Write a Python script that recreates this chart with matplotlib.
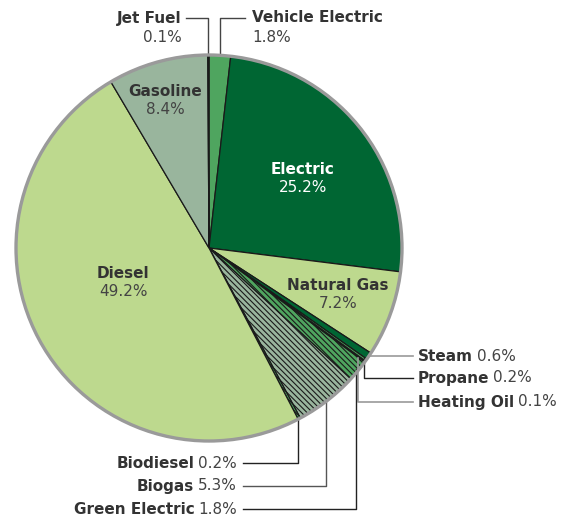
import matplotlib.pyplot as plt
import numpy as np

# energy use by source, percent of total (clockwise from top)
sources = ['Vehicle Electric', 'Electric', 'Natural Gas', 'Steam', 'Propane',
           'Heating Oil', 'Green Electric', 'Biogas', 'Biodiesel', 'Diesel',
           'Gasoline', 'Jet Fuel']
shares = [1.8, 25.2, 7.2, 0.6, 0.2, 0.1, 1.8, 5.3, 0.2, 49.2, 8.4, 0.1]
pct_text = ['1.8%', '25.2%', '7.2%', '0.6%', '0.2%', '0.1%', '1.8%', '5.3%',
            '0.2%', '49.2%', '8.4%', '0.1%']

DARK = '#006633'
MID = '#4fa55f'
LIGHT = '#bdd98e'
GREY = '#99b59d'
colors = [MID, DARK, LIGHT, DARK, MID, GREY, MID, GREY, MID, LIGHT, GREY, DARK]
hatched = {'Green Electric', 'Biogas', 'Biodiesel'}

cx, cy, R = 209, 248, 193

plt.rcParams['hatch.linewidth'] = 0.8
plt.rcParams['hatch.color'] = '#1a1a1a'

fig = plt.figure(figsize=(5.75, 5.2), dpi=100)
ax = fig.add_axes([0, 0, 1, 1])

wedges, _ = ax.pie(shares, colors=colors, center=(cx, cy), radius=R,
                   startangle=-90, counterclock=True, frame=True,
                   wedgeprops=dict(edgecolor='#1a1a1a', linewidth=0.9))
for w, s in zip(wedges, sources):
    if s in hatched:
        w.set_hatch('\\\\\\\\\\\\')
ax.add_patch(plt.Circle((cx, cy), R, fill=False, ec='#9a9a9a', lw=2.4, zorder=5))

ax.set_xlim(0, 575)
ax.set_ylim(520, 0)
ax.set_aspect('equal')
ax.axis('off')

fs = 11
name_col = '#333333'
pct_col = '#444444'

# labels inside the pie
inside = {'Gasoline': (165, 92, name_col), 'Electric': (303, 170, 'white'),
          'Natural Gas': (338, 286, name_col), 'Diesel': (123, 273, name_col)}
for s, (x, y, c) in inside.items():
    i = sources.index(s)
    ax.text(x, y, s, ha='center', va='center', fontsize=fs, fontweight='bold', color=c)
    ax.text(x, y + 18, pct_text[i], ha='center', va='center', fontsize=fs,
            color=c if c == 'white' else pct_col)

fig.canvas.draw()
rend = fig.canvas.get_renderer()


def anchor(s, k=1.0):
    i = sources.index(s)
    tot = sum(shares)
    mid = (sum(shares[:i]) + shares[i] / 2) / tot
    th = np.deg2rad(-90 + 360 * mid)
    return cx + k * R * np.cos(th), cy + k * R * np.sin(th)


def width(t):
    bb = t.get_window_extent(rend)
    return bb.width


# label on one line: bold name + percent
def one_line(s, x, y, side):
    i = sources.index(s)
    if side == 'left':
        t = ax.text(x, y, s, ha='left', va='center', fontsize=fs,
                    fontweight='bold', color=name_col)
        ax.text(x + width(t) + 4, y, pct_text[i], ha='left', va='center',
                fontsize=fs, color=pct_col)
    else:
        t = ax.text(x, y, pct_text[i], ha='right', va='center', fontsize=fs,
                    color=pct_col)
        ax.text(x - width(t) - 4, y, s, ha='right', va='center', fontsize=fs,
                fontweight='bold', color=name_col)


# top labels
ax_, ay_ = anchor('Jet Fuel')
ax.plot([ax_, ax_, 186], [ay_, 18, 18], color='#444444', lw=1)
ax.text(182, 18, 'Jet Fuel', ha='right', va='center', fontsize=fs,
        fontweight='bold', color=name_col)
ax.text(182, 37, pct_text[sources.index('Jet Fuel')], ha='right', va='center',
        fontsize=fs, color=pct_col)

ax_, ay_ = anchor('Vehicle Electric')
ax.plot([ax_, ax_, 245], [ay_, 18, 18], color='#444444', lw=1)
ax.text(252, 18, 'Vehicle Electric', ha='left', va='center', fontsize=fs,
        fontweight='bold', color=name_col)
ax.text(252, 37, pct_text[0], ha='left', va='center', fontsize=fs, color=pct_col)

# right labels
ax_, ay_ = anchor('Steam')
ax.plot([ax_, 413], [ay_, ay_], color='#999999', lw=1.2)
one_line('Steam', 418, ay_, 'left')
ax_, ay_ = anchor('Propane', 0.985)
ax.plot([ax_, ax_, 413], [ay_, 378, 378], color='#222222', lw=1)
one_line('Propane', 418, 378, 'left')
ax_, ay_ = anchor('Heating Oil', 0.97)
ax.plot([ax_ - 2, ax_ - 2, 413], [ay_, 402, 402], color='#999999', lw=1.2)
one_line('Heating Oil', 418, 402, 'left')

# bottom labels
for s, y, c in [('Biodiesel', 463, '#222222'), ('Biogas', 486, '#555555'),
                ('Green Electric', 509, '#222222')]:
    ax_, ay_ = anchor(s, 0.99)
    ax.plot([ax_, ax_, 243], [ay_, y, y], color=c, lw=1)
    one_line(s, 237, y, 'right')

fig.savefig('out.png', dpi=100)
